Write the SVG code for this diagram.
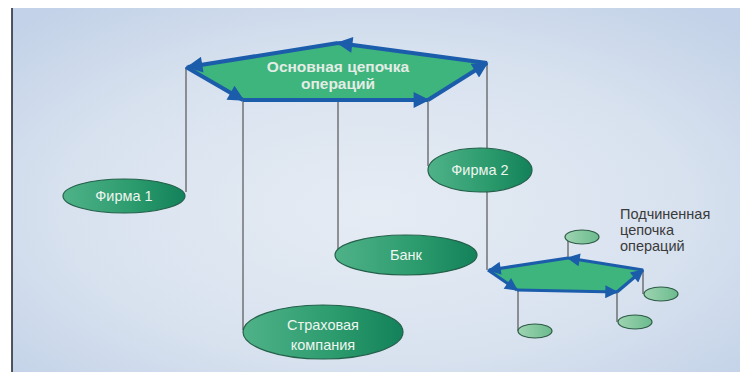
<svg xmlns="http://www.w3.org/2000/svg" width="740" height="376" viewBox="0 0 740 376">
<defs>
<radialGradient id="bg" cx="0.5" cy="0.55" r="0.7">
<stop offset="0" stop-color="#e6ecf4"/>
<stop offset="0.6" stop-color="#d8e2ef"/>
<stop offset="1" stop-color="#c3d2e8"/>
</radialGradient>
<linearGradient id="eg" x1="0" y1="0" x2="1" y2="0">
<stop offset="0" stop-color="#4fb288"/>
<stop offset="0.6" stop-color="#2a9a6c"/>
<stop offset="1" stop-color="#13815a"/>
</linearGradient>
<linearGradient id="sg" x1="0" y1="0" x2="1" y2="0">
<stop offset="0" stop-color="#9dd4b1"/>
<stop offset="1" stop-color="#6cbb8e"/>
</linearGradient>
<marker id="ah" viewBox="0 0 10 10" refX="9" refY="5" markerUnits="userSpaceOnUse" markerWidth="21" markerHeight="16" orient="auto">
<path d="M0,0 L10,5 L0,10 z" fill="#1b5cab"/>
</marker>
<marker id="ahs" viewBox="0 0 10 10" refX="9" refY="5" markerUnits="userSpaceOnUse" markerWidth="16" markerHeight="13" orient="auto">
<path d="M0,0 L10,5 L0,10 z" fill="#1b5cab"/>
</marker>
</defs>
<style>
.lead{stroke:#555;stroke-width:1.2;fill:none}
.edge{stroke:#1b5cab;stroke-width:4;fill:none;marker-end:url(#ah)}
.edges{stroke:#1b5cab;stroke-width:3.2;fill:none;marker-end:url(#ahs)}
.hex{fill:#3db57c}
.big{fill:url(#eg);stroke:#24604a;stroke-width:1.2}
.small{fill:url(#sg);stroke:#2d5a45;stroke-width:1.2}
.lbl{font-family:"Liberation Sans",Arial,sans-serif;font-size:14.5px;fill:#eef5f0;text-anchor:middle}
.title{font-family:"Liberation Sans",Arial,sans-serif;font-size:15.5px;font-weight:bold;fill:#e4ece6;text-anchor:middle}
.note{font-family:"Liberation Sans",Arial,sans-serif;font-size:14.5px;fill:#3a3a3a}
</style>
<rect x="0" y="0" width="740" height="376" fill="#ffffff"/>
<rect x="12" y="8" width="728" height="364" fill="url(#bg)"/>
<line x1="12" y1="8" x2="12" y2="372" stroke="#2a2e38" stroke-width="1.6"/>

<g id="connectors">
<line class="lead" x1="186" y1="67" x2="186" y2="192"/>
<line class="lead" x1="243" y1="100" x2="243" y2="330"/>
<line class="lead" x1="338" y1="43" x2="338" y2="256"/>
<line class="lead" x1="428" y1="100" x2="428" y2="166"/>
<line class="lead" x1="487" y1="63" x2="487" y2="270"/>
<line class="lead" x1="568" y1="258" x2="568" y2="238"/>
<line class="lead" x1="643" y1="270" x2="643" y2="294"/>
<line class="lead" x1="617" y1="292" x2="617" y2="322"/>
<line class="lead" x1="518" y1="290" x2="518" y2="331"/>
</g>

<g id="main-chain">
<polygon class="hex" points="186,67 338,43 487,63 428,100 243,100"/>
<path class="edge" d="M338,43 L188,67"/>
<path class="edge" d="M186,67 L243,100"/>
<path class="edge" d="M243,100 L428,100"/>
<path class="edge" d="M428,100 L487,63"/>
<path class="edge" d="M487,63 L338,43"/>
<text class="title" x="338" y="72">Основная цепочка</text>
<text class="title" x="338" y="89">операций</text>
</g>

<g id="sub-chain">
<polygon class="hex" points="488,270 568,258 643,270 617,292 517,290"/>
<path class="edges" d="M568,258 L489,270"/>
<path class="edges" d="M488,270 L517,290"/>
<path class="edges" d="M517,290 L617,292"/>
<path class="edges" d="M617,292 L643,270"/>
<path class="edges" d="M643,270 L568,258"/>
<text class="note" x="620" y="219">Подчиненная</text>
<text class="note" x="620" y="235">цепочка</text>
<text class="note" x="620" y="251">операций</text>
</g>

<g id="firma1">
<ellipse class="big" cx="124" cy="196" rx="61" ry="17"/>
<text class="lbl" x="124" y="201">Фирма 1</text>
</g>
<g id="firma2">
<ellipse class="big" cx="480" cy="170" rx="52" ry="22"/>
<text class="lbl" x="480" y="175">Фирма 2</text>
</g>
<g id="bank">
<ellipse class="big" cx="406" cy="255" rx="71" ry="20"/>
<text class="lbl" x="406" y="260">Банк</text>
</g>
<g id="insurance">
<ellipse class="big" cx="323" cy="332" rx="80" ry="27"/>
<text class="lbl" x="323" y="330">Страховая</text>
<text class="lbl" x="323" y="350">компания</text>
</g>

<g id="sub-node-top">
<ellipse class="small" cx="582" cy="237" rx="17" ry="7"/>
</g>
<g id="sub-node-right">
<ellipse class="small" cx="661" cy="294" rx="17" ry="7"/>
</g>
<g id="sub-node-bottom-right">
<ellipse class="small" cx="635" cy="322" rx="17" ry="7"/>
</g>
<g id="sub-node-bottom-left">
<ellipse class="small" cx="535" cy="331" rx="17" ry="7"/>
</g>
</svg>
